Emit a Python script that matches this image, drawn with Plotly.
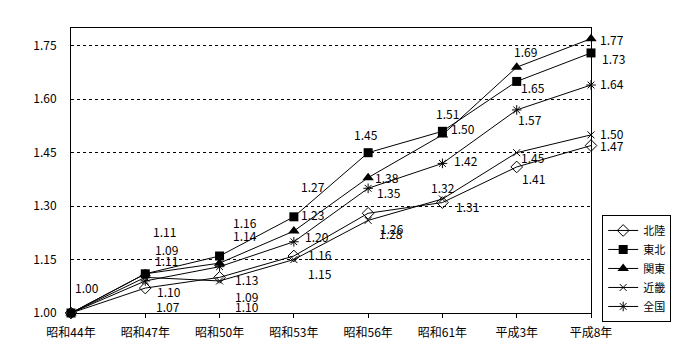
import plotly.graph_objects as go

categories = ["昭和44年", "昭和47年", "昭和50年", "昭和53年", "昭和56年", "昭和61年", "平成3年", "平成8年"]
hokuriku = [1.00, 1.07, 1.10, 1.16, 1.28, 1.31, 1.41, 1.47]
tohoku = [1.00, 1.11, 1.16, 1.27, 1.45, 1.51, 1.65, 1.73]
kanto = [1.00, 1.11, 1.14, 1.23, 1.38, 1.50, 1.69, 1.77]
kinki = [1.00, 1.10, 1.09, 1.15, 1.26, 1.32, 1.45, 1.50]
zenkoku = [1.00, 1.09, 1.13, 1.20, 1.35, 1.42, 1.57, 1.64]
y_ticks = [1.00, 1.15, 1.30, 1.45, 1.60, 1.75]

FONT = "Noto Sans CJK JP"

series = [
    ("北陸", hokuriku, dict(symbol="diamond-open", size=9, color="black", line=dict(width=1, color="black"))),
    ("東北", tohoku, dict(symbol="square", size=9, color="black")),
    ("関東", kanto, dict(symbol="triangle-up", size=10, color="black")),
    ("近畿", kinki, dict(symbol="x-thin-open", size=7, color="black", line=dict(width=1, color="black"))),
    ("全国", zenkoku, dict(symbol="asterisk-open", size=8, color="black", line=dict(width=1, color="black"))),
]

# label pixel offsets (dx, dy-up) per series per point; None = no label
label_shifts = {
    "北陸": [(16, 26), (23, -18), (27, -29), (26, 2), (23, -20), (25, -4), (17, -12), (21, 0)],
    "東北": [None, (19, 42), (25, 34), (19, 30), (-2, 18), (5, 18), (16, -6), (22, -6)],
    "関東": [None, (21, 13), (25, 28), (19, 17), (19, 0), (21, 6), (9, 16), (21, -1)],
    "近畿": [None, (24, -14), (27, -16), (26, -14), (24, -8), (1, 12), (16, -5), (21, 1)],
    "全国": [None, (21, 31), (27, -13), (23, 5), (21, -4), (24, 3), (13, -10), (21, 2)],
}

xs = list(range(len(categories)))
fig = go.Figure()
annotations = []
for name, vals, marker in series:
    fig.add_trace(go.Scatter(
        x=xs, y=vals, name=name, mode="lines+markers",
        line=dict(color="black", width=1), marker=marker, cliponaxis=False,
    ))
    for i, v in enumerate(vals):
        s = label_shifts[name][i]
        if s is None:
            continue
        annotations.append(dict(
            x=xs[i], y=v, xref="x", yref="y", text=f"{v:.2f}", showarrow=False,
            xanchor="center", yanchor="middle", xshift=s[0], yshift=s[1],
            font=dict(family=FONT, size=12, color="black"),
        ))

fig.update_layout(
    width=700, height=360,
    margin=dict(l=71, r=109, t=28, b=47, autoexpand=False),
    paper_bgcolor="white", plot_bgcolor="white",
    font=dict(family=FONT, size=12, color="black"),
    annotations=annotations,
    showlegend=True,
    legend=dict(
        x=1.0215, y=0.344, xanchor="left", yanchor="top",
        bordercolor="black", borderwidth=1, bgcolor="white",
        font=dict(family=FONT, size=11, color="black"),
        tracegroupgap=0, itemwidth=30,
    ),
)
fig.update_xaxes(
    range=[0, 7], tickmode="array", tickvals=xs, ticktext=categories,
    showgrid=False, zeroline=False, showline=True, linecolor="black", linewidth=1,
    mirror=True, ticks="outside", ticklen=4, tickcolor="black", ticklabelstandoff=5,
    tickfont=dict(family=FONT, size=12, color="black"),
)
fig.update_yaxes(
    range=[1.0, 1.8], tickmode="array", tickvals=y_ticks,
    ticktext=[f"{t:.2f}" for t in y_ticks],
    showgrid=True, gridcolor="black", griddash="dot", gridwidth=1,
    zeroline=False, showline=True, linecolor="black", linewidth=1, mirror=True,
    ticks="", ticklabelstandoff=11,
    tickfont=dict(family=FONT, size=12, color="black"),
)

fig.write_html(
    "out.html",
    config={"displayModeBar": False},
    post_script="document.body.style.margin='0';document.body.style.overflow='hidden';",
)
